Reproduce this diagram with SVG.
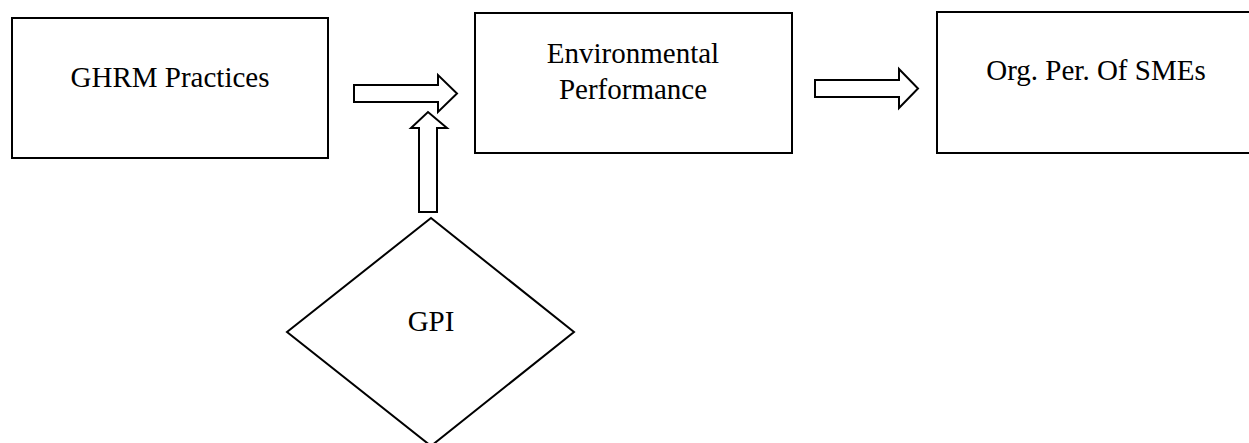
<svg xmlns="http://www.w3.org/2000/svg" width="1249" height="443" viewBox="0 0 1249 443">
  <style>
    .box { fill: #ffffff; stroke: #000000; stroke-width: 2; }
    .arrow { fill: #ffffff; stroke: #000000; stroke-width: 2; stroke-linejoin: miter; }
    .label { font-family: "Liberation Serif", "Times New Roman", serif; font-size: 29px; fill: #000000; text-anchor: middle; }
  </style>
  <rect width="1249" height="443" fill="#ffffff"/>

  <g id="ghrm-practices">
    <rect class="box" x="12" y="18" width="316" height="140"/>
    <text class="label" x="170" y="87">GHRM Practices</text>
  </g>

  <g id="environmental-performance">
    <rect class="box" x="475" y="13" width="317" height="140"/>
    <text class="label" x="633" y="63">Environmental</text>
    <text class="label" x="633" y="99">Performance</text>
  </g>

  <g id="org-performance">
    <rect class="box" x="937" y="12" width="330" height="141"/>
    <text class="label" x="1096" y="80">Org. Per. Of SMEs</text>
  </g>

  <g id="gpi">
    <polygon class="box" points="431,218 574,332 431,446 287,332"/>
    <text class="label" x="431" y="331">GPI</text>
  </g>

  <g id="connectors">
    <!-- GHRM Practices to Environmental Performance -->
    <polygon class="arrow" points="354,85 438,85 438,75 457,93.5 438,112 438,102 354,102"/>
    <!-- GPI up to the first block arrow -->
    <polygon class="arrow" points="419,212 419,128 411,128 428,112 447,128 437,128 437,212"/>
    <!-- Environmental Performance to Org. Per. Of SMEs -->
    <polygon class="arrow" points="815,80 899,80 899,69 918,88.5 899,108 899,97 815,97"/>
  </g>
</svg>
